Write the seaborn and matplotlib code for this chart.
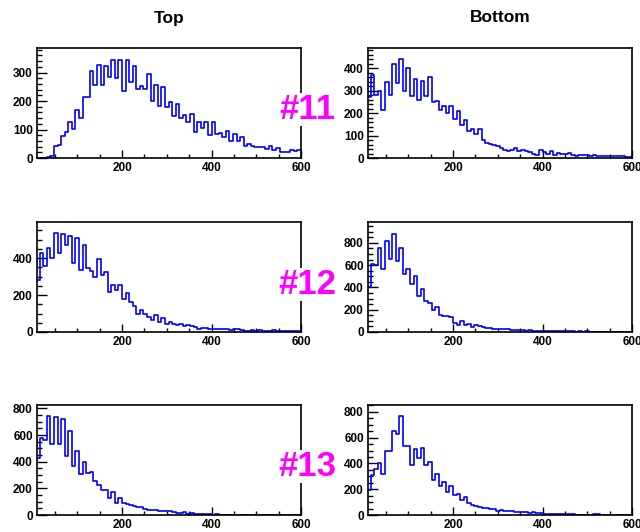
import numpy as np
import matplotlib
matplotlib.use("Agg")
import matplotlib.pyplot as plt
import seaborn as sns
from matplotlib.ticker import MultipleLocator

# histogram binning: 8-unit bins from 8 to 600
bin_edges = np.arange(8, 601, 8)
bin_centers = bin_edges[:-1] + 4

# counts per bin
top_11 = [0, 0, 0, 5, 8, 43, 45, 78, 92, 125,
          103, 167, 140, 215, 215, 305, 255, 327, 257, 324,
          284, 345, 280, 345, 234, 343, 265, 322, 242, 254,
          242, 295, 199, 255, 183, 248, 180, 195, 148, 190,
          140, 150, 128, 155, 90, 125, 107, 125, 80, 125,
          85, 88, 75, 95, 60, 85, 58, 73, 42, 50,
          42, 37, 37, 40, 32, 42, 27, 35, 20, 20,
          20, 28, 25, 28]
bottom_11 = [270, 370, 281, 296, 215, 340, 281, 419, 333, 440,
             299, 400, 274, 350, 259, 344, 274, 358, 247, 252,
             215, 230, 200, 230, 173, 207, 148, 170, 118, 129,
             108, 129, 81, 67, 64, 58, 52, 45, 37, 30,
             35, 44, 30, 37, 30, 25, 20, 15, 37, 25,
             19, 33, 15, 22, 20, 19, 22, 15, 7, 15,
             12, 12, 10, 12, 10, 10, 8, 10, 10, 8,
             8, 8, 5, 3]
top_12 = [282, 427, 355, 455, 400, 536, 427, 531, 469, 518,
          373, 509, 336, 469, 345, 330, 300, 398, 311, 325,
          216, 253, 225, 253, 180, 211, 162, 140, 95, 118,
          100, 82, 64, 91, 55, 78, 45, 55, 45, 36,
          45, 33, 40, 30, 27, 18, 24, 20, 18, 15,
          18, 18, 15, 15, 9, 15, 15, 9, 5, 5,
          9, 5, 9, 5, 5, 5, 9, 5, 5, 5,
          5, 4, 4, 5]
bottom_12 = [400, 613, 598, 755, 563, 815, 652, 883, 634, 750,
             519, 569, 435, 504, 326, 385, 281, 261, 193, 222,
             154, 148, 148, 133, 83, 65, 95, 65, 74, 44,
             59, 50, 44, 40, 35, 30, 30, 28, 26, 24,
             20, 15, 18, 15, 12, 15, 10, 12, 10, 8,
             10, 6, 8, 8, 5, 6, 5, 5, 4, 5,
             4, 5, 4, 3, 4, 3, 3, 4, 3, 2,
             3, 2, 3, 2]
top_13 = [430, 580, 562, 742, 530, 737, 530, 717, 445, 632,
          367, 480, 305, 400, 312, 325, 255, 225, 187, 187,
          125, 175, 92, 125, 87, 80, 72, 68, 60, 57,
          45, 40, 38, 35, 30, 28, 33, 28, 25, 15,
          13, 22, 10, 12, 8, 6, 5, 4, 5, 3,
          4, 2, 2, 1, 1, 1, 0, 1, 0, 2,
          0, 0, 0, 0, 1, 0, 0, 0, 0, 0,
          0, 0, 0, 0]
bottom_13 = [197, 307, 353, 401, 320, 494, 499, 652, 627, 767,
             537, 537, 391, 512, 440, 517, 391, 409, 274, 320,
             225, 256, 179, 225, 153, 166, 120, 136, 90, 77,
             69, 64, 51, 58, 46, 43, 33, 38, 33, 28,
             30, 26, 23, 20, 22, 18, 20, 13, 13, 10,
             10, 8, 8, 8, 5, 5, 5, 5, 3, 3,
             3, 3, 3, 8, 8, 3, 3, 3, 3, 3,
             2, 3, 2, 3]

row_labels = ["#11", "#12", "#13"]
col_titles = ["Top", "Bottom"]
y_max = [[386, 489], [596, 987], [825, 853]]
y_major = [100, 200, 200]
y_minor = [20, 50, 50]

sns.set_style("white")
plt.rcParams["font.family"] = ["Liberation Sans", "DejaVu Sans"]
plt.rcParams["text.color"] = "black"
plt.rcParams["xtick.color"] = "black"
plt.rcParams["ytick.color"] = "black"

fig = plt.figure(figsize=(6.4, 5.32), dpi=100)

col_left = [37 / 640, 368 / 640]
row_bottom = [1 - 158 / 532, 1 - 332 / 532, 1 - 515 / 532]
ax_w, ax_h = 264 / 640, 110 / 532

data = [[top_11, bottom_11], [top_12, bottom_12], [top_13, bottom_13]]

for r in range(3):
    for c in range(2):
        ax = fig.add_axes([col_left[c], row_bottom[r], ax_w, ax_h])
        sns.histplot(
            x=bin_centers, weights=np.array(data[r][c], dtype=float),
            bins=bin_edges.tolist(),
            element="step", fill=False, color="#0000ff", linewidth=1.2, ax=ax,
        )
        ax.set_xlim(10, 600)
        ax.set_ylim(0, y_max[r][c])
        ax.set_xlabel("")
        ax.set_ylabel("")
        ax.xaxis.set_major_locator(MultipleLocator(200))
        ax.xaxis.set_minor_locator(MultipleLocator(50))
        ax.yaxis.set_major_locator(MultipleLocator(y_major[r]))
        ax.yaxis.set_minor_locator(MultipleLocator(y_minor[r]))
        ax.tick_params(which="both", direction="in", top=False, right=False,
                       bottom=True, left=True, color="black", width=1.0,
                       labelsize=8.5, pad=3)
        ax.tick_params(axis="x", which="major", length=6)
        ax.tick_params(axis="x", which="minor", length=2.6)
        ax.tick_params(axis="y", which="major", length=7.5)
        ax.tick_params(axis="y", which="minor", length=3.6)
        for lab in ax.get_xticklabels() + ax.get_yticklabels():
            lab.set_fontweight("bold")
        for sp in ax.spines.values():
            sp.set_color("black")
            sp.set_linewidth(1.2)

for c in range(2):
    fig.text((col_left[c] + ax_w / 2), 1 - 18 / 532, col_titles[c],
             ha="center", va="center", fontsize=12.5, fontweight="bold")

for r, base in enumerate([119, 294, 476]):
    fig.text(307 / 640, 1 - base / 532, row_labels[r], ha="center",
             va="baseline", fontsize=25, fontweight="bold", color="#ff00ff",
             bbox=dict(facecolor="white", edgecolor="none", pad=0))

fig.savefig("out.png", dpi=100)
